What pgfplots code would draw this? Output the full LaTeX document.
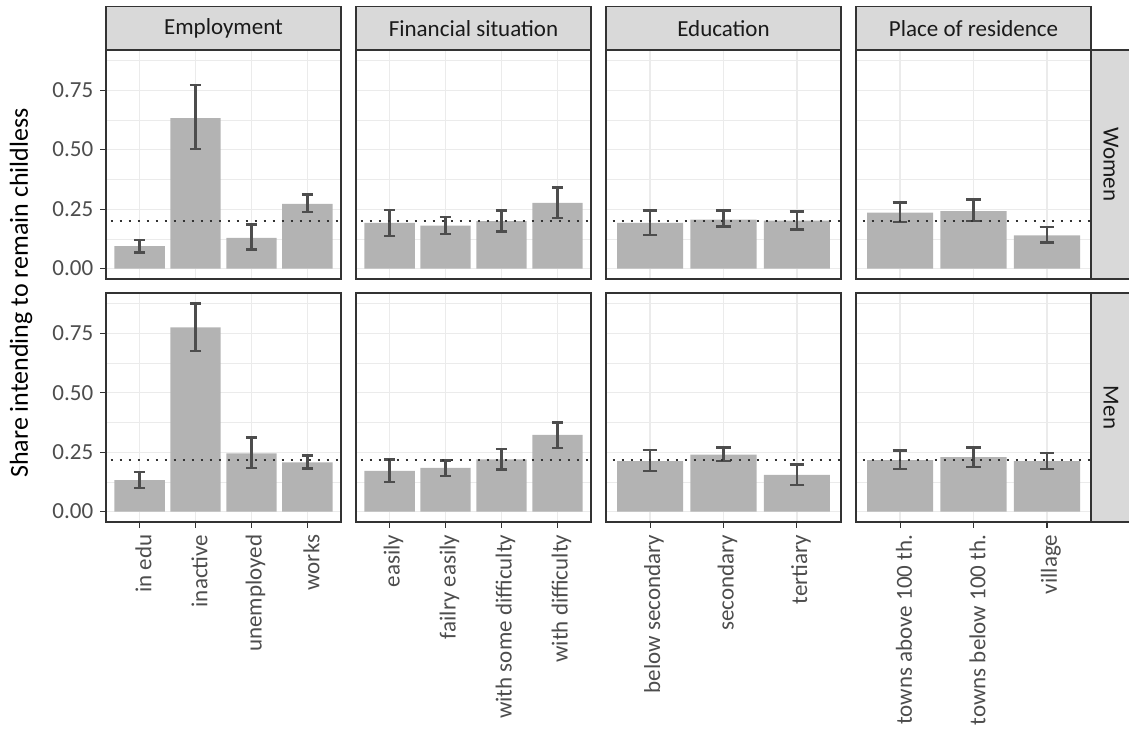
\documentclass[border=0pt]{standalone}
\usepackage{pgfplots}
\pgfplotsset{compat=1.18}
\usepackage{pgfplotstable}
\usepackage{fontspec}
\setmainfont{Carlito}
\usetikzlibrary{calc}

\definecolor{grey10}{HTML}{1A1A1A}
\definecolor{grey20}{HTML}{333333}
\definecolor{grey30}{HTML}{4D4D4D}
\definecolor{grey70}{HTML}{B3B3B3}
\definecolor{grey85}{HTML}{D9D9D9}
\definecolor{grey92}{HTML}{EBEBEB}

\newcommand\tickfont{\fontsize{11.5}{13}\selectfont}
\newcommand\titlefont{\fontsize{13}{15}\selectfont}

% Women: share, lower and upper bound of the interval
\pgfplotstableread{
x y lo hi
1 0.094 0.067 0.119
2 0.632 0.502 0.771
3 0.129 0.080 0.185
4 0.272 0.237 0.311
}\WEmp
\pgfplotstableread{
x y lo hi
1 0.192 0.137 0.247
2 0.181 0.146 0.216
3 0.199 0.156 0.244
4 0.276 0.212 0.341
}\WFin
\pgfplotstableread{
x y lo hi
1 0.192 0.140 0.244
2 0.206 0.177 0.244
3 0.202 0.164 0.240
}\WEdu
\pgfplotstableread{
x y lo hi
1 0.235 0.195 0.278
2 0.242 0.199 0.290
3 0.140 0.109 0.174
}\WRes
% Men
\pgfplotstableread{
x y lo hi
1 0.132 0.100 0.167
2 0.774 0.676 0.875
3 0.245 0.184 0.311
4 0.207 0.181 0.236
}\MEmp
\pgfplotstableread{
x y lo hi
1 0.171 0.124 0.219
2 0.184 0.150 0.215
3 0.219 0.177 0.264
4 0.322 0.268 0.374
}\MFin
\pgfplotstableread{
x y lo hi
1 0.212 0.170 0.258
2 0.239 0.213 0.270
3 0.154 0.112 0.198
}\MEdu
\pgfplotstableread{
x y lo hi
1 0.216 0.178 0.257
2 0.229 0.188 0.270
3 0.212 0.178 0.247
}\MRes

\pgfplotsset{
  panel/.style={
    scale only axis, width=117.5pt, height=114.5pt, anchor=south west,
    ymin=-0.04375, ymax=0.91875,
    ytick={0,0.25,0.5,0.75},
    minor ytick={0.125,0.375,0.625,0.875},
    grid=both,
    major grid style={draw=grey92, line width=0.6pt},
    minor grid style={draw=grey92, line width=0.3pt},
    axis line style={draw=grey20, line width=0.55pt},
    tick style={draw=grey20, line width=0.55pt},
    major tick length=2.85pt, minor tick length=0pt,
    tick align=outside, tick pos=left,
    xticklabels={}, yticklabels={},
    yticklabel style={font=\tickfont, text=grey30},
    xticklabel style={font=\tickfont, text=grey30, rotate=90, anchor=east,
      yshift=-2pt},
  },
  cats4/.style={xmin=0.4, xmax=4.6, xtick={1,2,3,4}},
  cats3/.style={xmin=0.4, xmax=3.6, xtick={1,2,3}},
  noxticks/.style={xtick style={draw=none}},
  noyticks/.style={ytick style={draw=none}},
  ylabs/.style={yticklabels={0.00,0.25,0.50,0.75}},
  barplot/.style={ybar, bar width=0.9, fill=grey70, draw=none},
  ebar/.style={error bars/.cd, y dir=both, y explicit,
    error bar style={draw=grey30, line width=1.2pt},
    error mark options={rotate=90, draw=grey30, line width=1.2pt, mark size=#1}},
  meanline/.style={draw=grey20, line width=1pt, dash pattern=on 1pt off 3.5pt},
}

% one facet: position, extra axis options, table, reference level, cap half-width
\newcommand\panel[6]{%
  \begin{axis}[panel, at={(#1,#2)}, #3]
    \addplot[barplot, ebar=#6] table[x=x, y=y,
      y error plus expr=\thisrow{hi}-\thisrow{y},
      y error minus expr=\thisrow{y}-\thisrow{lo}] {#4};
    \addplot[meanline] coordinates {(0,#5) (5,#5)};
  \end{axis}}

\newcommand\strip[3]{%
  \draw[fill=grey85, draw=grey20, line width=0.55pt] (#1,344pt) rectangle (#2,365.65pt);
  \node[font=\tickfont, text=grey10] at ($(#1,354.8pt)!0.5!(#2,354.8pt)$) {#3};}

\begin{document}
\begin{tikzpicture}
\useasboundingbox (0,0) rectangle (564.5pt,369pt);

% Women
\panel{53pt}{229.5pt}{cats4, ylabs, noxticks}{\WEmp}{0.202}{2.8pt}
\panel{178pt}{229.5pt}{cats4, noxticks, noyticks}{\WFin}{0.202}{2.8pt}
\panel{303pt}{229.5pt}{cats3, noxticks, noyticks}{\WEdu}{0.202}{3.67pt}
\panel{428pt}{229.5pt}{cats3, noxticks, noyticks}{\WRes}{0.202}{3.67pt}
% Men
\panel{53pt}{108pt}{cats4, ylabs,
  xticklabels={in edu, inactive, unemployed, works}}{\MEmp}{0.218}{2.8pt}
\panel{178pt}{108pt}{cats4, noyticks,
  xticklabels={easily, failry easily, with some difficulty, with difficulty}}{\MFin}{0.218}{2.8pt}
\panel{303pt}{108pt}{cats3, noyticks,
  xticklabels={below secondary, secondary, tertiary}}{\MEdu}{0.218}{3.67pt}
\panel{428pt}{108pt}{cats3, noyticks,
  xticklabels={towns above 100 th., towns below 100 th., village}}{\MRes}{0.218}{3.67pt}

% column strips
\strip{53pt}{170.5pt}{Employment}
\strip{178pt}{295.5pt}{Financial situation}
\strip{303pt}{420.5pt}{Education}
\strip{428pt}{545.5pt}{Place of residence}

% row strips
\draw[fill=grey85, draw=grey20, line width=0.55pt] (545.5pt,229.5pt) rectangle (567pt,344pt);
\draw[fill=grey85, draw=grey20, line width=0.55pt] (545.5pt,108pt) rectangle (567pt,222.5pt);
\node[rotate=-90, font=\tickfont, text=grey10] at (555.5pt,286.75pt) {Women};
\node[rotate=-90, font=\tickfont, text=grey10] at (555.5pt,165.25pt) {Men};

% axis title
\node[rotate=90, font=\titlefont] at (10.5pt,222.5pt) {Share intending to remain childless};
\end{tikzpicture}
\end{document}
